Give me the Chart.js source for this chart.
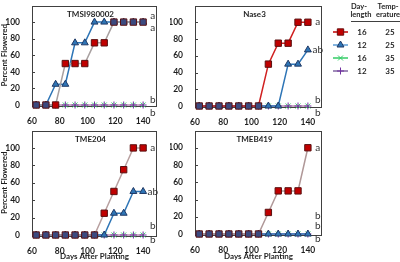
<!DOCTYPE html>
<html>
<head>
<meta charset="utf-8">
<script src="https://cdn.jsdelivr.net/npm/chart.js@4.4.1/dist/chart.umd.min.js"></script>
<style>
  body { margin: 0; background: #fff; }
  #wrap { position: relative; width: 400px; height: 262px; }
  canvas { position: absolute; }
</style>
</head>
<body>
<div id="wrap">
  <canvas id="pTMSI" width="170" height="125" style="left:0;top:0"></canvas>
  <canvas id="pNase" width="230" height="125" style="left:170px;top:0"></canvas>
  <canvas id="pTME204" width="170" height="137" style="left:0;top:125px"></canvas>
  <canvas id="pTMEB" width="170" height="137" style="left:170px;top:125px"></canvas>
</div>
<script>
// days after planting (weekly counts)
const days = [63, 70, 77, 84, 91, 98, 105, 112, 119, 126, 133, 140];
const zeros = [0, 0, 0, 0, 0, 0, 0, 0, 0, 0, 0, 0];

// percent flowered, 16 h / 25 C and 12 h / 25 C
const tmsiLong = [0, 0, 0, 50, 50, 50, 75, 75, 100, 100, 100, 100];
const tmsiShort = [0, 0, 25, 25, 75, 75, 100, 100, 100, 100, 100, 100];
const naseLong = [0, 0, 0, 0, 0, 0, 0, 50, 75, 75, 100, 100];
const naseShort = [0, 0, 0, 0, 0, 0, 0, 0, 0, 50, 50, 67];
const tme204Long = [0, 0, 0, 0, 0, 0, 0, 25, 50, 75, 100, 100];
const tme204Short = [0, 0, 0, 0, 0, 0, 0, 0, 25, 25, 50, 50];
const tmebLong = [0, 0, 0, 0, 0, 0, 0, 25, 50, 50, 50, 100];
const tmebShort = zeros;

// significance letters and the level they sit at
const tmsiLetters = ["a", "a", "b", "b"];
const tmsiLetterLevels = [107, 93, 6, -9];
const naseLetters = ["a", "ab", "b", "b"];
const naseLetterLevels = [100, 67, 7, -8];
const tme204Letters = ["a", "ab", "b", "b"];
const tme204LetterLevels = [100, 50, 11, -5];
const tmebLetters = ["a", "b", "b", "b"];
const tmebLetterLevels = [100, 21, 9, -5];

const xTicks = [60, 80, 100, 120, 140];
const yTicks = [0, 20, 40, 60, 80, 100];

const legendDay = ["16", "12", "16", "12"];
const legendTemp = ["25", "25", "35", "35"];

const FONT = 'Lato, "Open Sans", sans-serif';
const TXT = "#1f1f1f";

const legendStyles = [
  { line: "#C00000", style: "rect", radius: 4.5, fill: "#C00000", stroke: "#6b0d0d" },
  { line: "#5B9BD5", style: "triangle", radius: 4, fill: "#2E75B6", stroke: "#1F3864" },
  { line: "#33CC66", style: "crossRot", radius: 3.5, fill: "#33CC66", stroke: "#33CC66" },
  { line: "#8064A2", style: "cross", radius: 3.5, fill: "#7030A0", stroke: "#7030A0" }
];

function pts(vals) {
  return days.map((d, i) => ({ x: d, y: vals[i] }));
}

function buildSets(longVals, shortVals, longLine) {
  return [
    {
      data: pts(longVals),
      borderColor: longLine,
      borderWidth: 1.5,
      pointStyle: "rect",
      pointRadius: 4.5,
      pointBorderWidth: 1,
      pointBorderColor: "#5a1010",
      // where both series overlap the square reads dark navy
      pointBackgroundColor: (c) =>
        shortVals[c.dataIndex] === longVals[c.dataIndex] ? "#3b4a80" : "#C00000",
      order: 1,
      clip: false
    },
    {
      data: pts(shortVals),
      borderColor: "#2E75B6",
      borderWidth: 1.5,
      pointStyle: "triangle",
      pointRadius: 4,
      pointBorderWidth: 1,
      pointBorderColor: "#1F3864",
      pointBackgroundColor: "#2E75B6",
      order: 2,
      clip: false
    },
    {
      data: pts(zeros),
      borderColor: "#E8A0A0",
      borderWidth: 1,
      pointStyle: "crossRot",
      pointRadius: 3.5,
      pointBorderWidth: 1,
      pointBorderColor: "#33CC66",
      order: 4,
      clip: false
    },
    {
      data: pts(zeros),
      borderColor: "#9a8ab8",
      borderWidth: 1,
      pointStyle: "cross",
      pointRadius: 3.5,
      pointBorderWidth: 1,
      pointBorderColor: "#7030A0",
      order: 3,
      clip: false
    }
  ];
}

function drawLegend(ctx) {
  ctx.save();
  ctx.fillStyle = TXT;
  ctx.font = "bold 7.5px " + FONT;
  ctx.textAlign = "center";
  ctx.textBaseline = "middle";
  ctx.fillText("Day-", 189, 7);
  ctx.fillText("length", 191, 15);
  ctx.fillText("Temp-", 218, 7);
  ctx.fillText("erature", 218, 15);
  ctx.strokeStyle = "#404040";
  ctx.lineWidth = 1;
  ctx.beginPath();
  ctx.moveTo(181, 21.5);
  ctx.lineTo(230, 21.5);
  ctx.stroke();
  ctx.font = "bold 8px " + FONT;
  legendDay.forEach((d, i) => {
    const y = 32 + i * 13;
    const s = legendStyles[i];
    ctx.strokeStyle = s.line;
    ctx.lineWidth = 1.5;
    ctx.beginPath();
    ctx.moveTo(163, y);
    ctx.lineTo(178, y);
    ctx.stroke();
    ctx.fillStyle = s.fill;
    ctx.strokeStyle = s.stroke;
    ctx.lineWidth = 1;
    Chart.helpers.drawPoint(ctx, { pointStyle: s.style, radius: s.radius, rotation: 0, borderWidth: 1 }, 170.5, y);
    ctx.fillStyle = TXT;
    ctx.fillText(d, 192, y);
    ctx.fillText(legendTemp[i], 220, y);
  });
  ctx.restore();
}

function makePanel(id, title, longVals, shortVals, longLine, letters, levels, lay) {
  const decor = {
    id: "decor",
    beforeDatasetsDraw(chart) {
      const { ctx, chartArea: a, scales } = chart;
      ctx.save();
      ctx.strokeStyle = "#404040";
      ctx.lineWidth = 1;
      ctx.strokeRect(Math.round(a.left) + 0.5, Math.round(a.top) + 0.5,
        Math.round(a.right - a.left) - 1, Math.round(a.bottom - a.top));
      ctx.beginPath();
      yTicks.forEach((v) => {
        const y = Math.round(scales.y.getPixelForValue(v)) + 0.5;
        ctx.moveTo(a.left, y);
        ctx.lineTo(a.left + 3, y);
      });
      ctx.stroke();
      ctx.restore();
    },
    afterDraw(chart) {
      const { ctx, chartArea: a, scales } = chart;
      ctx.save();
      ctx.fillStyle = TXT;
      ctx.font = "bold 8px " + FONT;
      ctx.textAlign = "center";
      ctx.textBaseline = "middle";
      ctx.fillText(title, (a.left + a.right) / 2 - 4, a.top + 9);
      ctx.font = "10px " + FONT;
      ctx.fillStyle = "#333";
      letters.forEach((t, i) => {
        ctx.fillText(t, scales.x.getPixelForValue(147), scales.y.getPixelForValue(levels[i]));
      });
      ctx.restore();
      if (lay.legend) drawLegend(ctx);
    }
  };

  new Chart(document.getElementById(id), {
    type: "line",
    data: { datasets: buildSets(longVals, shortVals, longLine) },
    options: {
      responsive: false,
      animation: false,
      layout: { padding: { top: 1, right: lay.right, left: 0, bottom: 0 } },
      plugins: { legend: { display: false }, tooltip: { enabled: false } },
      elements: { line: { tension: 0 } },
      scales: {
        x: {
          type: "linear",
          min: 60,
          max: 150,
          grid: { display: false },
          border: { display: false },
          afterBuildTicks: (s) => { s.ticks = xTicks.map((v) => ({ value: v })); },
          ticks: {
            padding: 3,
            maxRotation: 0,
            autoSkip: false,
            color: TXT,
            font: { family: FONT, size: 8.5, weight: "bold" }
          },
          title: {
            display: lay.xTitle,
            text: "Days After Planting",
            color: TXT,
            font: { family: FONT, size: 8, weight: "bold" },
            padding: { top: 0, bottom: 1 }
          },
          afterFit: (s) => {
            s.height = lay.xh;
            s.paddingLeft = 0;
            s.paddingRight = 0;
          }
        },
        y: {
          min: 0,
          max: 120,
          grid: { display: false },
          border: { display: false },
          afterBuildTicks: (s) => { s.ticks = yTicks.map((v) => ({ value: v })); },
          ticks: {
            padding: 4,
            autoSkip: false,
            color: TXT,
            font: { family: FONT, size: 8.5, weight: "bold" }
          },
          title: {
            display: lay.yTitle,
            text: "Percent Flowered",
            color: TXT,
            font: { family: FONT, size: 8, weight: "bold" },
            padding: 0
          },
          afterFit: (s) => {
            s.width = lay.yw;
            s.paddingTop = 0;
            s.paddingBottom = 0;
          }
        }
      }
    },
    plugins: [decor]
  });
}

makePanel("pTMSI", "TMSI980002", tmsiLong, tmsiShort, "#a8a0a0", tmsiLetters, tmsiLetterLevels,
  { right: 13, yw: 32, xh: 20, xTitle: false, yTitle: true });
makePanel("pNase", "Nase3", naseLong, naseShort, "#D02020", naseLetters, naseLetterLevels,
  { right: 78, yw: 25, xh: 19, xTitle: false, yTitle: false, legend: true });
makePanel("pTME204", "TME204", tme204Long, tme204Short, "#b8a0a0", tme204Letters, tme204LetterLevels,
  { right: 13, yw: 32, xh: 27, xTitle: true, yTitle: true });
makePanel("pTMEB", "TMEB419", tmebLong, tmebShort, "#b09898", tmebLetters, tmebLetterLevels,
  { right: 18, yw: 25, xh: 28, xTitle: true, yTitle: false });
</script>
</body>
</html>
